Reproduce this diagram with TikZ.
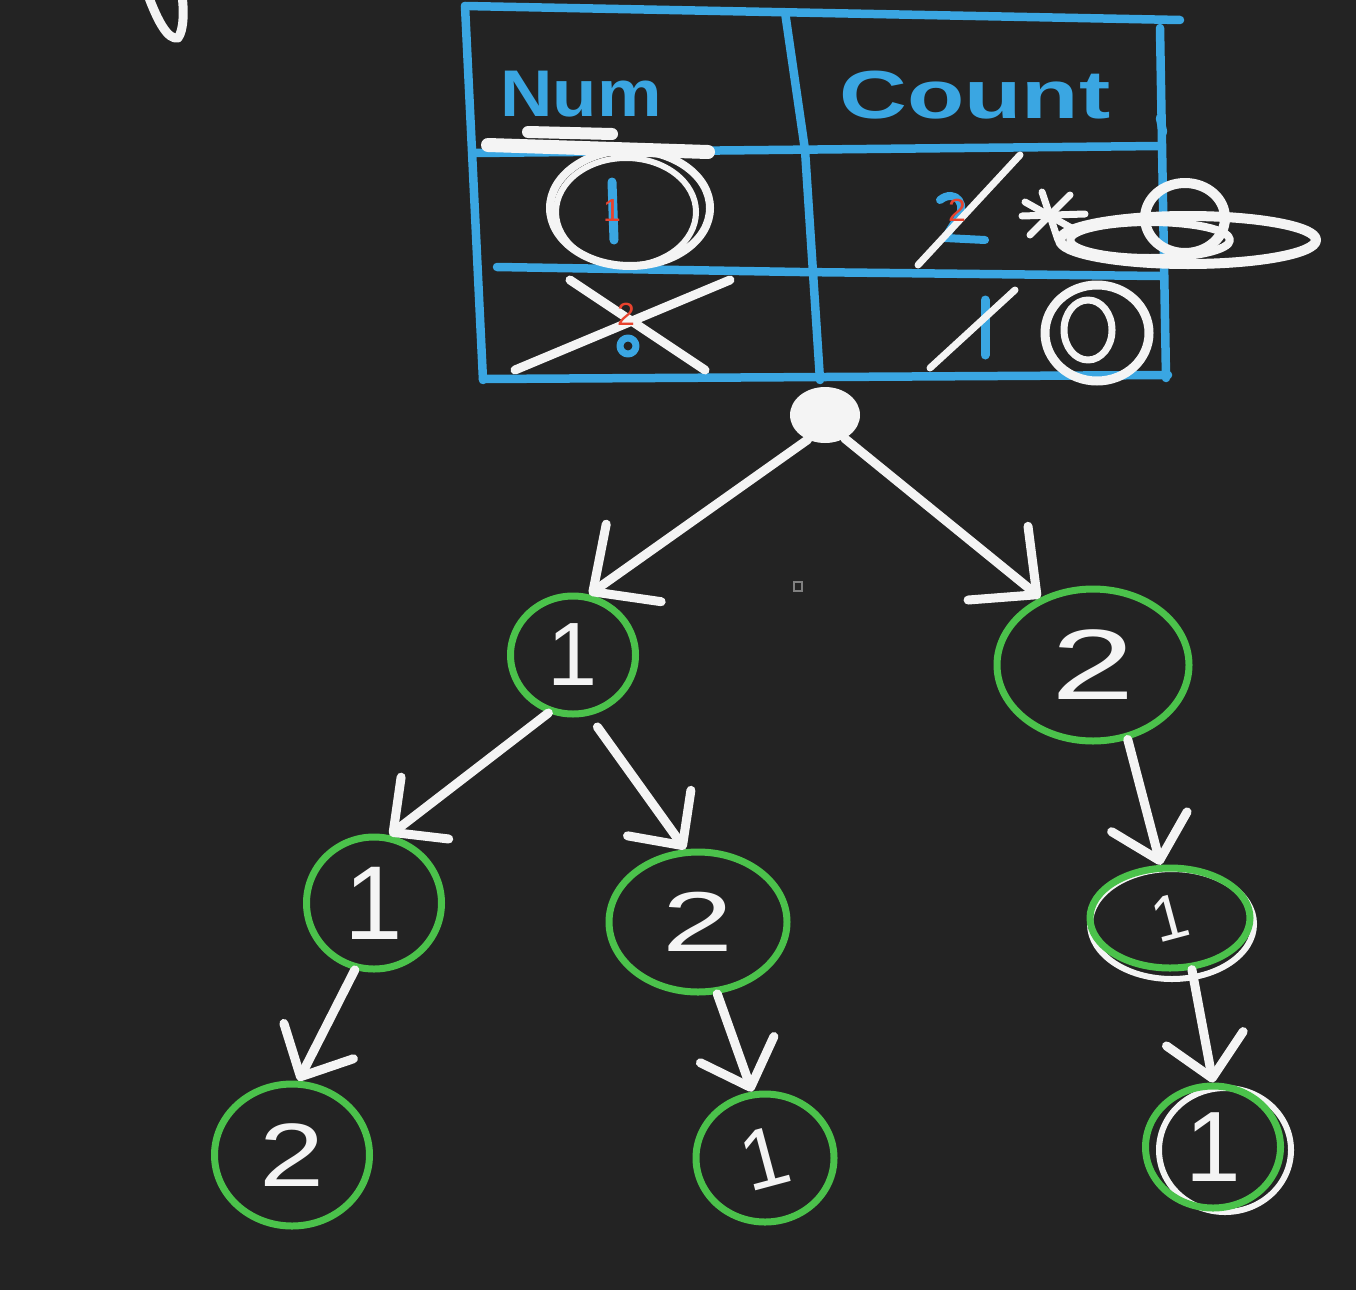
\documentclass[tikz,border=0pt]{standalone}
\usepackage{fontspec}
\usepackage{graphicx}
\setmainfont{Liberation Sans}
\usetikzlibrary{arrows.meta,shapes.geometric}
\definecolor{bg}{HTML}{232323}
\definecolor{tblue}{HTML}{3AA6E2}
\definecolor{tgreen}{HTML}{4BC24B}
\definecolor{tred}{HTML}{E8432E}
\definecolor{chalk}{HTML}{F4F4F4}
\begin{document}
\begin{tikzpicture}[x=1pt,y=-1pt,
  tbl/.style={tblue,line width=8.5pt,line cap=round,line join=round},
  wht/.style={chalk,line width=8pt,line cap=round,line join=round},
  gnode/.style={ellipse,draw=tgreen,line width=7pt,inner sep=0pt,text=chalk},
  arrbig/.style={chalk,line width=9pt,line cap=round,-{Straight Barb[length=50pt,width=95pt,round]}},
  arr/.style={chalk,line width=9pt,line cap=round,-{Straight Barb[length=40pt,width=78pt,round]}},
  redlbl/.style={text=tred,font=\fontsize{32}{34}\selectfont,inner sep=0pt}]
\fill[bg] (0,0) rectangle (1356,1290);
\useasboundingbox (0,0) rectangle (1356,1290);

% top-left scribble
\draw[wht,line width=9pt] (148,-5) .. controls (158,22) and (168,40) .. (178,38) .. controls (184,30) and (184,10) .. (182,-5);

% table
\draw[tbl] (465,6) -- (1180,20);
\draw[tbl] (465,6) -- (483,380);
\draw[tbl] (1160,28) -- (1166,378);
\draw[tbl] (1160,118) -- (1163,132);
\draw[tbl] (785,12) -- (805,150) -- (820,380);
\draw[tbl] (475,153) -- (1160,146);
\draw[tbl] (497,267) -- (800,272) -- (1160,276);
\draw[tbl] (483,379) -- (1168,375);
\node[text=tblue,inner sep=0pt,font=\bfseries\fontsize{66}{70}\selectfont] (hnum) at (581,94) {\scalebox{1.1}[1]{Num}};
\node[text=tblue,inner sep=0pt,font=\bfseries\fontsize{68}{72}\selectfont] (hcount) at (975,95) {\scalebox{1.38}[1]{Count}};

% row 1, Num
\draw[tbl,line width=9pt] (612,182) -- (614,240);
\draw[wht] (630,208) ellipse [x radius=80,y radius=58];
\draw[wht,line width=6pt] (626,212) ellipse [x radius=70,y radius=54];
\draw[wht,line width=14pt] (488,145) -- (708,152);
\draw[wht,line width=12pt] (528,132) -- (612,134);
\node[redlbl] (r1) at (612,210) {1};

% row 1, Count
\draw[tbl,line width=8pt] (940,200) .. controls (955,188) and (970,205) .. (955,222) -- (945,238) -- (985,240);
\draw[wht,line width=7pt] (918,265) -- (1020,155);
\draw[wht,line width=7pt] (1025,202) -- (1075,230);
\draw[wht,line width=7pt] (1030,235) -- (1070,195);
\draw[wht,line width=7pt] (1022,216) -- (1085,214);
\draw[wht,line width=7pt] (1042,192) -- (1058,240);
\draw[wht,line width=10pt] (1185,218) ellipse [x radius=40,y radius=35];
\draw[wht,line width=10pt] (1188,240) ellipse [x radius=128,y radius=24];
\draw[wht,line width=8pt] (1150,240) ellipse [x radius=80,y radius=18];
\node[redlbl] (r2) at (957,210) {2};

% row 2, Num
\draw[tbl,line width=7pt] (628,346) circle [radius=8];
\draw[wht,line width=9pt] (515,370) -- (730,280);
\draw[wht,line width=9pt] (570,280) -- (705,370);
\node[redlbl] (r3) at (626,314) {2};

% row 2, Count
\draw[tbl,line width=9pt] (985,300) -- (985,355);
\draw[wht,line width=7pt] (930,368) -- (1015,290);
\draw[wht,line width=9pt] (1097,333) ellipse [x radius=52,y radius=48];
\draw[wht,line width=7pt] (1088,330) ellipse [x radius=24,y radius=30];

% tiny cursor mark
\draw[gray,line width=1.5pt] (794,582) rectangle (802,591);

% tree
\node[ellipse,fill=chalk,minimum width=70pt,minimum height=56pt,inner sep=0pt] (root) at (825,415) {};

\draw[chalk,line width=6pt] (1172,924) ellipse [x radius=82,y radius=55];
\draw[chalk,line width=6pt] (1225,1150) ellipse [x radius=66,y radius=62];

\node[gnode,minimum width=125pt,minimum height=118pt,font=\fontsize{90}{90}\selectfont] (n1) at (573,655) {1};
\node[gnode,minimum width=192pt,minimum height=152pt,font=\fontsize{100}{100}\selectfont] (n2) at (1093,665) {\scalebox{1.5}[1]{2}};
\node[gnode,minimum width=135pt,minimum height=132pt,font=\fontsize{105}{105}\selectfont] (n3) at (374,903) {1};
\node[gnode,minimum width=178pt,minimum height=140pt,font=\fontsize{85}{85}\selectfont] (n4) at (698,922) {\scalebox{1.5}[1]{2}};
\node[gnode,minimum width=160pt,minimum height=100pt,font=\fontsize{64}{64}\selectfont] (n5) at (1170,918) {\rotatebox{15}{1}};
\node[gnode,minimum width=155pt,minimum height=142pt,font=\fontsize{90}{90}\selectfont] (n6) at (292,1155) {\scalebox{1.3}[1]{2}};
\node[gnode,minimum width=138pt,minimum height=128pt,font=\fontsize{85}{85}\selectfont] (n7) at (765,1158) {\rotatebox{15}{1}};
\node[gnode,minimum width=135pt,minimum height=122pt,font=\fontsize{100}{100}\selectfont] (n8) at (1213,1147) {1};

\draw[arrbig] (root.235) -- (n1.75);
\draw[arrbig] (root.310) -- (n2.128);
\draw[arr] (n1.247) -- (n3.77);
\draw[arr,shorten <=14pt] (n1.285) -- (n4.100);
\draw[arr] (n2.295) -- (n5.100);
\draw[arr] (n3.254) -- (n6.85);
\draw[arr] (n4.285) -- (n7.101);
\draw[arr] (n5.293) -- (n8.90);
\end{tikzpicture}
\end{document}
